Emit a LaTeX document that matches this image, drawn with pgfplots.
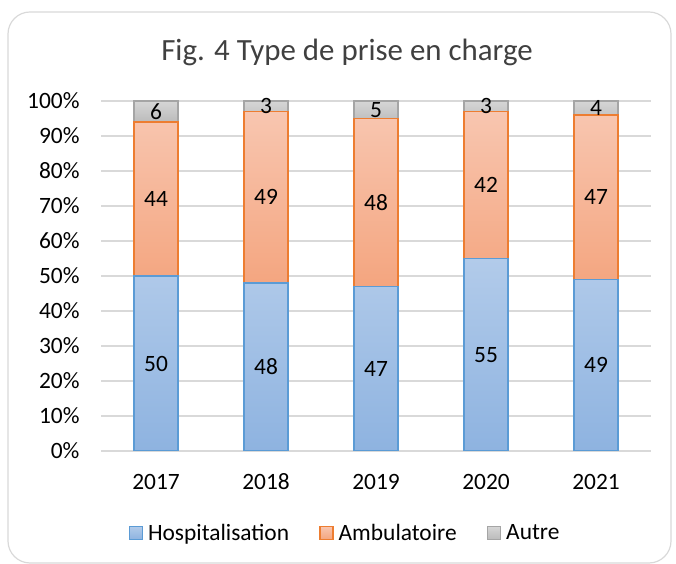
\documentclass[border=0pt]{standalone}
\usepackage{pgfplots}
\usepackage{pgfplotstable}
\pgfplotsset{compat=1.18}
\usepackage{fontspec}
\setmainfont{Carlito}

\definecolor{hosptop}{HTML}{B2CBEA}
\definecolor{hospbot}{HTML}{8EB3E0}
\definecolor{hospline}{HTML}{5B9BD5}
\definecolor{ambtop}{HTML}{F8C6B0}
\definecolor{ambbot}{HTML}{F4A57F}
\definecolor{ambline}{HTML}{ED7D31}
\definecolor{auttop}{HTML}{D6D6D6}
\definecolor{autbot}{HTML}{BBBBBB}
\definecolor{autline}{HTML}{A5A5A5}
\definecolor{gridgray}{HTML}{D9D9D9}
\definecolor{titlegray}{HTML}{404040}

% annee, hospitalisation, ambulatoire, autre (%)
\pgfplotstableread{
x h a o
0 50 44 6
1 48 49 3
2 47 48 5
3 55 42 3
4 49 47 4
}\prise

\begin{document}
\begin{tikzpicture}[x=1bp,y=1bp]
\useasboundingbox (0,0) rectangle (676,564);
\draw[draw=gridgray, line width=1.2bp, rounded corners=22bp] (8,1) rectangle (671,552);
\node[font=\fontsize{31}{34}\selectfont, text=titlegray] at (347,512) {Fig. 4 Type de prise en charge};

\begin{axis}[
  at={(101bp,113bp)}, anchor=south west,
  width=550bp, height=350bp, scale only axis,
  ybar stacked, bar width=44bp,
  xmin=-0.5, xmax=4.5, ymin=0, ymax=100,
  xtick={0,1,2,3,4},
  xticklabels={2017,2018,2019,2020,2021},
  ytick={0,10,20,30,40,50,60,70,80,90,100},
  yticklabels={0\%,10\%,20\%,30\%,40\%,50\%,60\%,70\%,80\%,90\%,100\%},
  font=\fontsize{23.5}{26}\selectfont,
  major tick length=0pt,
  ymajorgrids, grid style={gridgray, line width=1.3bp},
  axis x line*=bottom, axis y line*=left,
  x axis line style={gridgray, line width=1.3bp},
  y axis line style={draw=none},
  yticklabel style={xshift=-18bp},
  xticklabel style={text height=15bp, yshift=-20bp},
  /pgf/number format/assume math mode=true,
  point meta=explicit,
  nodes near coords={\pgfmathprintnumber{\pgfplotspointmeta}},
  every node near coord/.append style={anchor=center, text=black},
  legend columns=3,
  legend style={at={(0.4436,-0.234)}, anchor=center, draw=none,
    font=\fontsize{23.5}{26}\selectfont,
    /tikz/every odd column/.append style={column sep=3bp},
    /tikz/every even column/.append style={column sep=28bp}},
  lg/.style={legend image code/.code={
    \draw[##1] (0bp,-6.5bp) rectangle (13bp,6.5bp);}},
]
\addplot[lg, draw=hospline, line width=1.5bp, top color=hosptop, bottom color=hospbot]
  table[x=x, y=h, meta=h] {\prise};
\addplot[lg, draw=ambline, line width=1.5bp, top color=ambtop, bottom color=ambbot]
  table[x=x, y=a, meta=a] {\prise};
\addplot[lg, draw=autline, line width=1.5bp, top color=auttop, bottom color=autbot]
  table[x=x, y=o, meta=o] {\prise};
\legend{Hospitalisation, Ambulatoire, Autre}
\end{axis}
\end{tikzpicture}
\end{document}
